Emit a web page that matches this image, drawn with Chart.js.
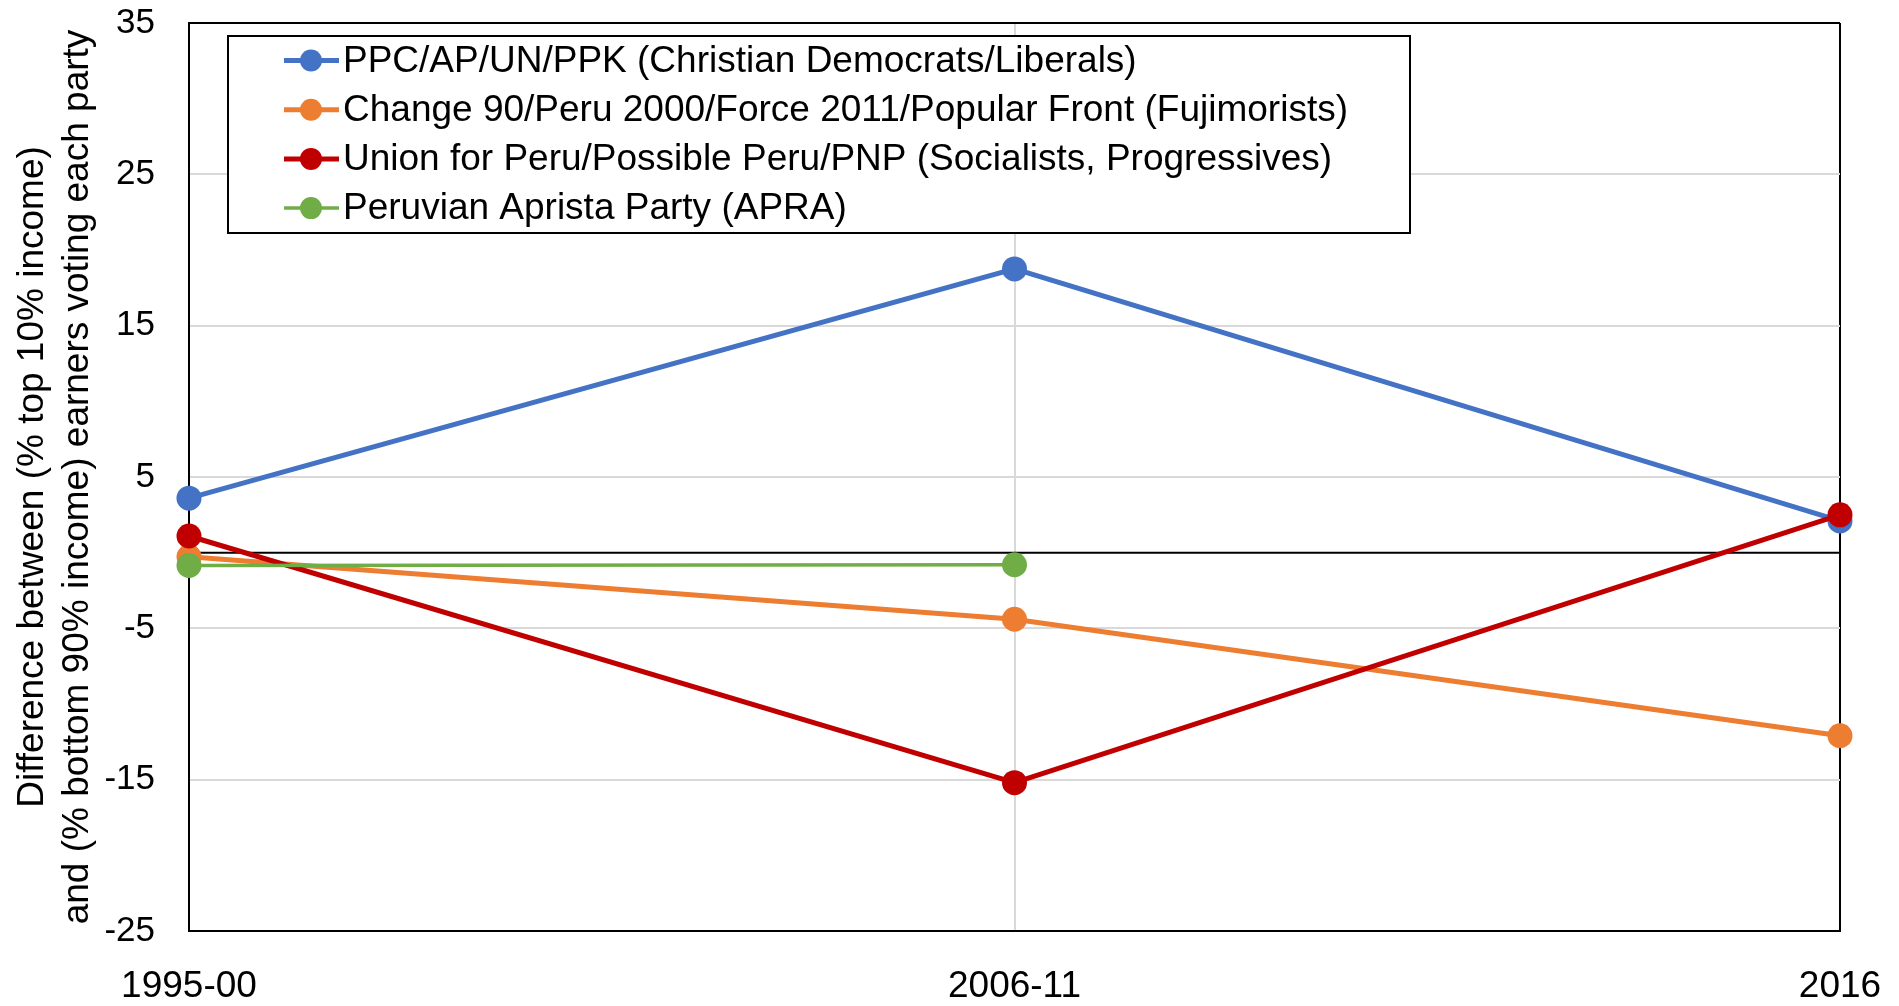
<!DOCTYPE html>
<html>
<head>
<meta charset="utf-8">
<script src="https://cdn.jsdelivr.net/npm/chart.js@4"></script>
<style>
  body { margin: 0; background: #fff; }
  #wrap { width: 1899px; height: 1006px; position: relative; }
</style>
</head>
<body>
<div id="wrap"><canvas id="myChart"></canvas></div>
<script>
// periods on the x axis
const periodos = ['1995-00', '2006-11', '2016']

// one list per party
const liberales = [3.6, 18.75, 2.1]
const fujimoristas = [-0.27, -4.4, -12.1]
const socialistas = [1.1, -15.2, 2.5]
const apra = [-0.85, -0.8, null]

const nombres = [
  'PPC/AP/UN/PPK (Christian Democrats/Liberals)',
  'Change 90/Peru 2000/Force 2011/Popular Front (Fujimorists)',
  'Union for Peru/Possible Peru/PNP (Socialists, Progressives)',
  'Peruvian Aprista Party (APRA)'
]

const tituloY = ['Difference between (% top 10% income)', 'and (% bottom 90% income) earners voting each party']

const fuente = '"Liberation Sans", Arial, sans-serif'

function serie(label, data, color, ancho, orden) {
  return {
    label: label,
    data: data,
    borderColor: color,
    backgroundColor: color,
    borderWidth: ancho,
    pointRadius: 12.5,
    pointBorderWidth: 0,
    pointBackgroundColor: color,
    tension: 0,
    clip: false,
    order: orden
  }
}

// horizontal black line at zero
const lineaCero = {
  id: 'lineaCero',
  beforeDatasetsDraw(chart) {
    const ctx = chart.ctx
    const y = chart.scales.y.getPixelForValue(0)
    ctx.save()
    ctx.strokeStyle = '#000'
    ctx.lineWidth = 2
    ctx.beginPath()
    ctx.moveTo(chart.chartArea.left, y)
    ctx.lineTo(chart.chartArea.right, y)
    ctx.stroke()
    ctx.restore()
  }
}

// boxed legend inside the plot, like the original
const leyenda = {
  id: 'leyenda',
  afterDraw(chart) {
    const ctx = chart.ctx
    const x0 = 228, y0 = 36, w = 1182, h = 197
    ctx.save()
    ctx.fillStyle = '#fff'
    ctx.fillRect(x0, y0, w, h)
    ctx.strokeStyle = '#000'
    ctx.lineWidth = 2
    ctx.strokeRect(x0, y0, w, h)
    ctx.font = '37px ' + fuente
    ctx.textBaseline = 'middle'
    ctx.textAlign = 'left'
    chart.data.datasets.forEach((ds, i) => {
      const y = 60.5 + i * 49.2
      ctx.strokeStyle = ds.borderColor
      ctx.lineWidth = ds.borderWidth
      ctx.beginPath()
      ctx.moveTo(284, y)
      ctx.lineTo(339, y)
      ctx.stroke()
      ctx.fillStyle = ds.borderColor
      ctx.beginPath()
      ctx.arc(311, y, 11, 0, Math.PI * 2)
      ctx.fill()
      ctx.fillStyle = '#000'
      ctx.fillText(ds.label, 343, y + 1)
    })
    ctx.restore()
  }
}

const data = {
  labels: periodos,
  datasets: [
    serie(nombres[0], liberales, '#4472C4', 5, 4),
    serie(nombres[1], fujimoristas, '#ED7D31', 5, 3),
    serie(nombres[2], socialistas, '#C00000', 5, 2),
    serie(nombres[3], apra, '#70AD47', 3.5, 1)
  ]
}

const config = {
  type: 'line',
  data: data,
  options: {
    responsive: true,
    maintainAspectRatio: false,
    animation: false,
    layout: { padding: { top: 23, right: 59, left: 0, bottom: 0 } },
    plugins: {
      legend: { display: false },
      tooltip: { enabled: false }
    },
    scales: {
      x: {
        offset: false,
        afterFit: (scale) => {
          scale.height = 75
          scale.paddingLeft = 0
          scale.paddingRight = 0
        },
        grid: {
          drawTicks: false,
          lineWidth: 2,
          color: (c) => (c.index === 0 || c.index === periodos.length - 1) ? '#000' : '#d9d9d9'
        },
        border: { display: true, color: '#000', width: 2 },
        ticks: {
          color: '#000',
          font: { family: fuente, size: 37 },
          padding: 34,
          maxRotation: 0,
          autoSkip: false
        }
      },
      y: {
        min: -25,
        max: 35,
        afterFit: (scale) => {
          scale.width = 189
          scale.paddingTop = 0
          scale.paddingBottom = 0
        },
        grid: {
          drawTicks: false,
          lineWidth: 2,
          color: (c) => (c.tick && (c.tick.value === 35 || c.tick.value === -25)) ? '#000' : '#d9d9d9'
        },
        border: { display: true, color: '#000', width: 2 },
        ticks: {
          stepSize: 10,
          color: '#000',
          font: { family: fuente, size: 35 },
          padding: 34
        },
        title: {
          display: true,
          text: tituloY,
          color: '#000',
          font: { family: fuente, size: 37, lineHeight: 1.2 },
          padding: { top: 11, bottom: 0 }
        }
      }
    }
  },
  plugins: [lineaCero, leyenda]
}

const myChart = new Chart(document.getElementById('myChart'), config)
</script>
</body>
</html>
